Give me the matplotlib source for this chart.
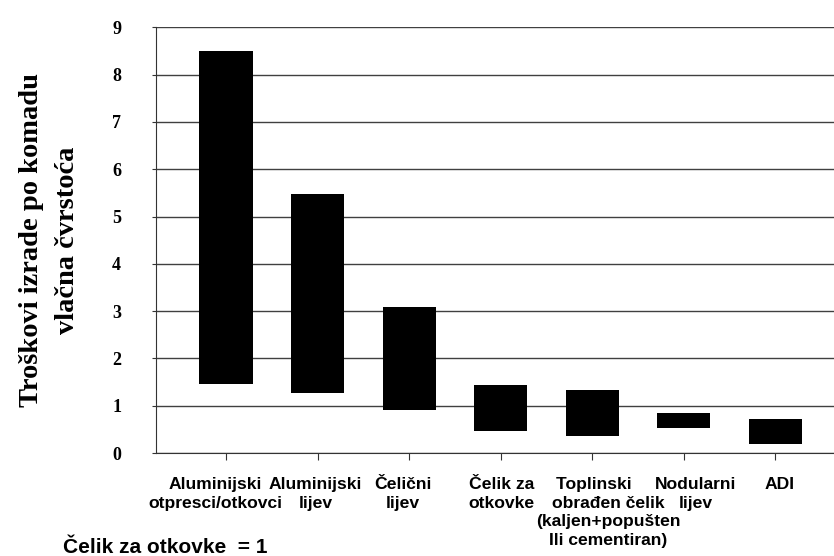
import numpy as np
import matplotlib.pyplot as plt
from matplotlib.transforms import ScaledTranslation

# categories and cost ranges (relative to forging steel = 1)
categories = [
    'Aluminijski\notpresci/otkovci',
    'Aluminijski\nlijev',
    'Čelični\nlijev',
    'Čelik za\notkovke',
    'Toplinski      \nobrađen čelik\n(kaljen+popušten\nIli cementiran)',
    'Nodularni\nlijev',
    'ADI',
]
low = [1.46, 1.27, 0.91, 0.47, 0.36, 0.53, 0.19]
high = [8.49, 5.47, 3.09, 1.44, 1.33, 0.85, 0.72]
yticks = list(range(0, 10))

sans = 'Liberation Sans'
serif = 'Liberation Serif'

fig = plt.figure(figsize=(8.34, 5.56), dpi=100)
ax = fig.add_axes([0.187, 0.185, 0.813, 0.766])

x = np.arange(len(categories))
heights = np.array(high) - np.array(low)
ax.bar(x, heights, bottom=low, width=0.58, color='black', zorder=3)

ax.set_xlim(-0.765, 6.64)
ax.set_ylim(0, 9)
ax.set_yticks(yticks)
ax.set_yticklabels([str(v) for v in yticks], fontfamily=serif,
                   fontweight='bold', fontsize=13)
ax.set_xticks(x)
ax.set_xticklabels([])

# category labels, nudged a little sideways as in the original layout (px)
nudge = [-11, -2, -6, 1, 16, 12, 4]
for xi, lab, dx in zip(x, categories, nudge):
    tr = ax.get_xaxis_transform() + ScaledTranslation(dx / 100, -0.24, fig.dpi_scale_trans)
    ax.text(xi, 0, lab, transform=tr, ha='center', va='top', multialignment='center',
            fontfamily=sans, fontweight='bold', fontsize=12.6, linespacing=1.3)

ax.grid(axis='y', color='0.25', lw=1.0, zorder=0)
ax.set_axisbelow(True)
for s in ['top', 'right']:
    ax.spines[s].set_visible(False)
ax.spines['left'].set_color('0.2')
ax.spines['bottom'].set_color('0.2')
ax.tick_params(axis='y', length=3, pad=22, color='0.2')
ax.tick_params(axis='x', length=5, color='0.2')

ax.set_ylabel('Troškovi izrade po komadu\nvlačna čvrstoća', fontfamily=serif,
              fontweight='bold', fontsize=20.5, linespacing=1.6, labelpad=23)

fig.text(0.0755, 0.006, 'Čelik za otkovke  = 1', fontfamily=sans,
         fontweight='bold', fontsize=15, va='baseline', ha='left')

fig.savefig('out.png', dpi=100)
